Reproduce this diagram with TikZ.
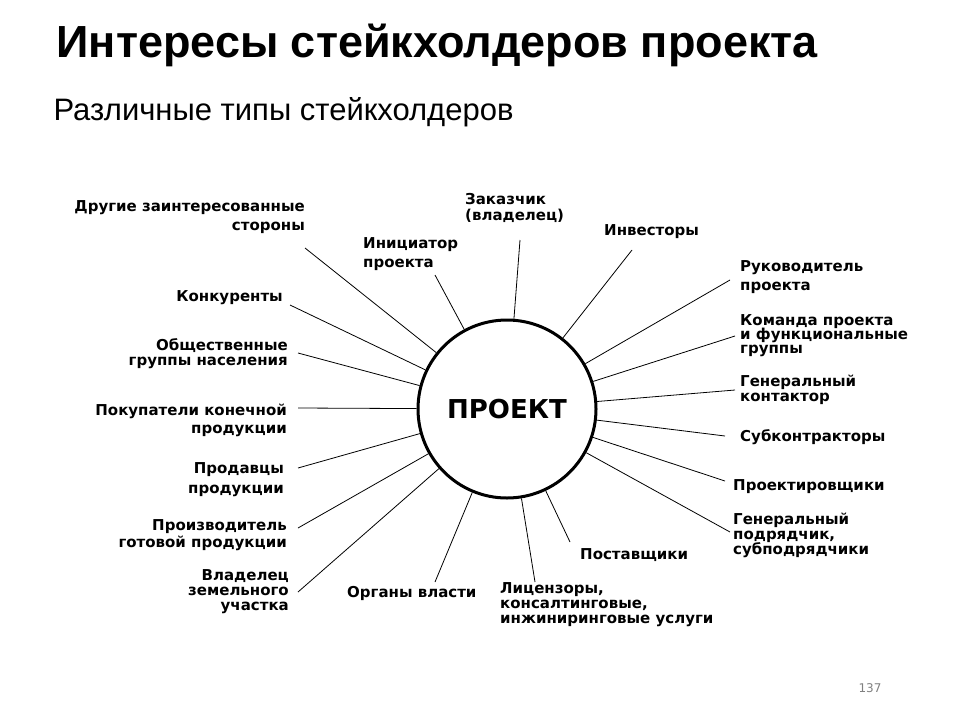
\documentclass[tikz,border=0pt]{standalone}
\usepackage{fontspec}
\setmainfont{DejaVu Sans}
\newfontfamily\headfont{Liberation Sans}
\begin{document}
\begin{tikzpicture}[x=1pt,y=-1pt]
    \tikzset{lbl/.style={font=\bfseries\fontsize{15}{16}\selectfont,inner sep=0pt},
      lft/.style={lbl,anchor=north west,align=left},
      rgt/.style={lbl,anchor=north east,align=right},
      ray/.style={line width=0.8pt,black}};
    \useasboundingbox (0,0) rectangle (960,720);
    \node[anchor=west,font=\headfont\bfseries\fontsize{45}{50}\selectfont] (title) at (53,45) {Интересы стейкхолдеров проекта};
    \node[anchor=west,font=\headfont\fontsize{31}{36}\selectfont] (sub) at (50,112) {Различные типы стейкхолдеров};
    \node[anchor=east,text=gray,font=\fontsize{12}{14}\selectfont] (page) at (885,688) {137};
    \node[circle,draw,line width=3pt,minimum size=178pt,font=\bfseries\fontsize{26}{30}\selectfont] (P) at (507,409) {ПРОЕКТ};
    % labels
    \node[rgt] (L1) at (305,200) {Другие заинтересованные\\[3pt]стороны};
    \node[lft] (L2) at (465,193) {Заказчик\\(владелец)};
    \node[lft] (L3) at (363,237) {Инициатор\\[3pt]проекта};
    \node[lft] (L4) at (604,224) {Инвесторы};
    \node[lft] (L5) at (740,260) {Руководитель\\[3pt]проекта};
    \node[lft] (L6) at (740,314) {Команда проекта\\[-2pt]и функциональные\\[-2pt]группы};
    \node[lft] (L7) at (740,375) {Генеральный\\[-1pt]контактор};
    \node[lft] (L8) at (740,429) {Субконтракторы};
    \node[lft] (L9) at (733,479) {Проектировщики};
    \node[lft] (L10) at (733,513) {Генеральный\\[-1pt]подрядчик,\\[-1pt]субподрядчики};
    \node[lft] (L11) at (580,548) {Поставщики};
    \node[lft] (L12) at (500,582) {Лицензоры,\\[-1pt]консалтинговые,\\[-1pt]инжиниринговые услуги};
    \node[lft] (L13) at (347,586) {Органы власти};
    \node[rgt] (L14) at (289,569) {Владелец\\[-1pt]земельного\\[-1pt]участка};
    \node[rgt] (L15) at (287,519) {Производитель\\[1pt]готовой продукции};
    \node[rgt] (L16) at (284,462) {Продавцы\\[4pt]продукции};
    \node[rgt] (L17) at (287,404) {Покупатели конечной\\[2pt]продукции};
    \node[rgt] (L18) at (288,338) {Общественные\\[-1pt]группы населения};
    \node[rgt] (L19) at (283,290) {Конкуренты};
    % free ends of the rays
    \coordinate (c1) at (305,248);
    \coordinate (c2) at (520,240);
    \coordinate (c3) at (435,275);
    \coordinate (c4) at (632,250);
    \coordinate (c5) at (730,280);
    \coordinate (c6) at (735,336);
    \coordinate (c7) at (735,390);
    \coordinate (c8) at (725,436);
    \coordinate (c9) at (725,481);
    \coordinate (c10) at (730,532);
    \coordinate (c11) at (570,542);
    \coordinate (c12) at (535,582);
    \coordinate (c13) at (435,582);
    \coordinate (c14) at (298,592);
    \coordinate (c15) at (298,528);
    \coordinate (c16) at (298,468);
    \coordinate (c17) at (298,408);
    \coordinate (c18) at (298,353);
    \coordinate (c19) at (290,305);
    \foreach \i in {1,...,19} \draw[ray] (c\i) -- (P);
\end{tikzpicture}
\end{document}
